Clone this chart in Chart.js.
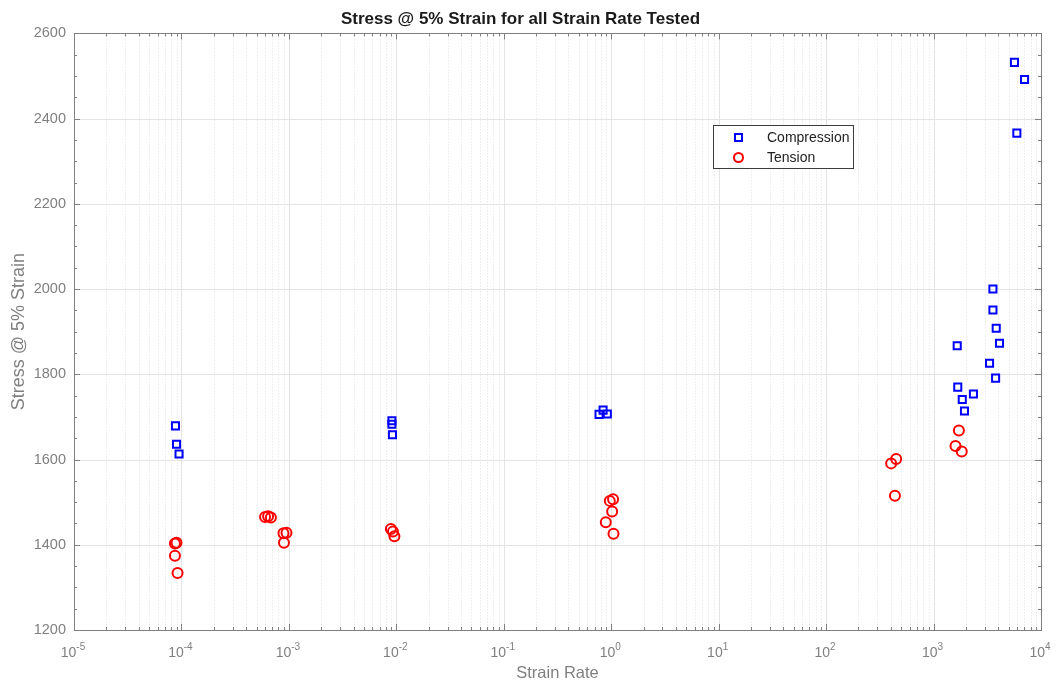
<!DOCTYPE html>
<html>
<head>
<meta charset="utf-8">
<script src="https://cdn.jsdelivr.net/npm/chart.js@4.4.0/dist/chart.umd.min.js"></script>
<style>
  html, body { margin: 0; padding: 0; background: #fff; }
  #wrap { width: 1056px; height: 684px; }
</style>
</head>
<body>
<div id="wrap"><canvas id="c" width="1056" height="684"></canvas></div>
<script>
// values
const compRate = [8.8e-5, 9.0e-5, 9.5e-5, 9.1e-3, 9.1e-3, 9.2e-3, 0.77, 0.84, 0.92,
  1660, 1680, 1850, 1940, 2350, 3320, 3780, 3570, 3570, 3830, 4110, 5660, 7030, 5960];
const compStress = [1679, 1636, 1613, 1691, 1683, 1658, 1706, 1716, 1707,
  1867, 1770, 1741, 1714, 1754, 1826, 1791, 2000, 1951, 1908, 1873, 2532, 2492, 2366];

const tensRate = [8.7e-5, 9.0e-5, 8.7e-5, 9.2e-5, 6.0e-4, 6.4e-4, 6.8e-4, 8.9e-4, 9.5e-4, 9.0e-4,
  8.9e-3, 9.3e-3, 9.6e-3, 0.97, 1.04, 1.02, 0.89, 1.05, 403, 449, 437, 1720, 1600, 1830];
const tensStress = [1403, 1405, 1374, 1334, 1465, 1467, 1464, 1427, 1428, 1405,
  1437, 1431, 1420, 1503, 1507, 1478, 1453, 1426, 1591, 1601, 1515, 1668, 1632, 1619];

const xDecades = [1e-5, 1e-4, 1e-3, 1e-2, 1e-1, 1e0, 1e1, 1e2, 1e3, 1e4];
const xExponents = ['-5', '-4', '-3', '-2', '-1', '0', '1', '2', '3', '4'];
const yTicks = [1200, 1400, 1600, 1800, 2000, 2200, 2400, 2600];

const FONT = '"Liberation Sans", Arial, sans-serif';
const GRAY = '#808080';
Chart.defaults.font.family = FONT;

const toXY = (xs, ys) => xs.map((x, i) => ({ x, y: ys[i] }));

// minor positions on the log axis: 2..9 x 10^k
function minorX() {
  const out = [];
  xDecades.slice(0, -1).forEach(d => { for (let m = 2; m <= 9; m++) out.push(d * m); });
  return out;
}

const matlabAxes = {
  id: 'matlabAxes',
  beforeDatasetsDraw(chart) {
    const { ctx, chartArea: a, scales: { x, y } } = chart;
    ctx.save();
    ctx.lineWidth = 1;
    // minor vertical grid, dotted
    ctx.strokeStyle = '#e0e0e0';
    ctx.setLineDash([1, 2]);
    minorX().forEach(v => {
      const px = Math.round(x.getPixelForValue(v)) + 0.5;
      ctx.beginPath(); ctx.moveTo(px, a.top); ctx.lineTo(px, a.bottom); ctx.stroke();
    });
    // major grid, solid
    ctx.setLineDash([]);
    ctx.strokeStyle = '#e4e4e4';
    xDecades.forEach(v => {
      const px = Math.round(x.getPixelForValue(v)) + 0.5;
      ctx.beginPath(); ctx.moveTo(px, a.top); ctx.lineTo(px, a.bottom); ctx.stroke();
    });
    yTicks.forEach(v => {
      const py = Math.round(y.getPixelForValue(v)) + 0.5;
      ctx.beginPath(); ctx.moveTo(a.left, py); ctx.lineTo(a.right, py); ctx.stroke();
    });
    ctx.restore();
  },
  afterDatasetsDraw(chart) {
    const { ctx, chartArea: a, scales: { x, y } } = chart;
    ctx.save();
    ctx.strokeStyle = GRAY;
    ctx.lineWidth = 1;
    ctx.strokeRect(Math.round(a.left) + 0.5, Math.round(a.top) + 0.5,
      Math.round(a.right - a.left), Math.round(a.bottom - a.top));
    ctx.beginPath();
    // inward ticks on x (bottom and top)
    const xt = xDecades.map(v => [v, 6]).concat(minorX().map(v => [v, 3]));
    xt.forEach(([v, len]) => {
      const px = Math.round(x.getPixelForValue(v)) + 0.5;
      ctx.moveTo(px, a.bottom); ctx.lineTo(px, a.bottom - len);
      ctx.moveTo(px, a.top); ctx.lineTo(px, a.top + len);
    });
    // inward ticks on y (left and right), minor every 50
    for (let v = 1200; v <= 2600; v += 50) {
      const len = v % 200 === 0 ? 6 : 3;
      const py = Math.round(y.getPixelForValue(v)) + 0.5;
      ctx.moveTo(a.left, py); ctx.lineTo(a.left + len, py);
      ctx.moveTo(a.right, py); ctx.lineTo(a.right - len, py);
    }
    ctx.stroke();

    // x tick labels as 10 with a raised exponent
    ctx.fillStyle = GRAY;
    ctx.textBaseline = 'alphabetic';
    xDecades.forEach((v, i) => {
      const px = x.getPixelForValue(v);
      ctx.font = '14px ' + FONT;
      const wb = ctx.measureText('10').width;
      ctx.font = '10px ' + FONT;
      const we = ctx.measureText(xExponents[i]).width;
      const left = px - (wb + we) / 2 - 1;
      ctx.font = '14px ' + FONT;
      ctx.fillText('10', left, 657);
      ctx.font = '10px ' + FONT;
      ctx.fillText(xExponents[i], left + wb, 650);
    });

    // legend box
    const lx = 713, ly = 125, lw = 140, lh = 43;
    ctx.fillStyle = '#fff';
    ctx.fillRect(lx, ly, lw, lh);
    ctx.strokeStyle = '#3c3c3c';
    ctx.lineWidth = 1;
    ctx.strokeRect(lx + 0.5, ly + 0.5, lw, lh);
    ctx.lineWidth = 2;
    ctx.strokeStyle = '#0000ff';
    ctx.strokeRect(735, 134, 7, 7);
    ctx.strokeStyle = '#ff0000';
    ctx.beginPath(); ctx.arc(738.5, 157.5, 4.5, 0, Math.PI * 2); ctx.stroke();
    ctx.fillStyle = '#222';
    ctx.font = '14px ' + FONT;
    ctx.textBaseline = 'middle';
    ctx.fillText(chart.data.datasets[0].label, 767, 138);
    ctx.fillText(chart.data.datasets[1].label, 767, 158);
    ctx.restore();
  }
};

new Chart(document.getElementById('c'), {
  type: 'scatter',
  data: {
    datasets: [
      { label: 'Compression', data: toXY(compRate, compStress), pointStyle: 'rect',
        pointRadius: 5, pointHoverRadius: 5, borderWidth: 2, borderColor: '#0000ff', backgroundColor: 'rgba(255,255,255,0)' },
      { label: 'Tension', data: toXY(tensRate, tensStress), pointStyle: 'circle',
        pointRadius: 5, pointHoverRadius: 5, borderWidth: 2, borderColor: '#ff0000', backgroundColor: 'rgba(255,255,255,0)' },
    ]
  },
  options: {
    responsive: false,
    animation: false,
    devicePixelRatio: 1,
    layout: { padding: { left: 0, right: 15, top: 0, bottom: 0 } },
    plugins: {
      legend: { display: false },
      tooltip: { enabled: false },
      title: { display: true, text: 'Stress @ 5% Strain for all Strain Rate Tested', color: '#1a1a1a',
        font: { size: 17, weight: 'bold' }, padding: { top: 9, bottom: 4 } },
    },
    scales: {
      x: {
        type: 'logarithmic', min: 1e-5, max: 1e4,
        afterBuildTicks: s => { s.ticks = xDecades.map(v => ({ value: v, major: true })); },
        afterFit: s => { s.height = 54; s.paddingLeft = 0; s.paddingRight = 0; },
        ticks: { display: false },
        grid: { display: false },
        border: { display: false },
        title: { display: true, text: 'Strain Rate', color: GRAY, font: { size: 16.5 }, padding: { top: 0, bottom: 1 } },
      },
      y: {
        type: 'linear', min: 1200, max: 2600,
        afterBuildTicks: s => { s.ticks = yTicks.map(v => ({ value: v })); },
        afterFit: s => { s.width = 74; },
        ticks: { color: GRAY, font: { size: 14.5 }, padding: 8, callback: v => String(v) },
        grid: { display: false, drawTicks: false },
        border: { display: false },
        title: { display: true, text: 'Stress @ 5% Strain', color: GRAY, font: { size: 18 }, padding: { top: 8, bottom: 0 } },
      }
    }
  },
  plugins: [matlabAxes]
});
</script>
</body>
</html>
